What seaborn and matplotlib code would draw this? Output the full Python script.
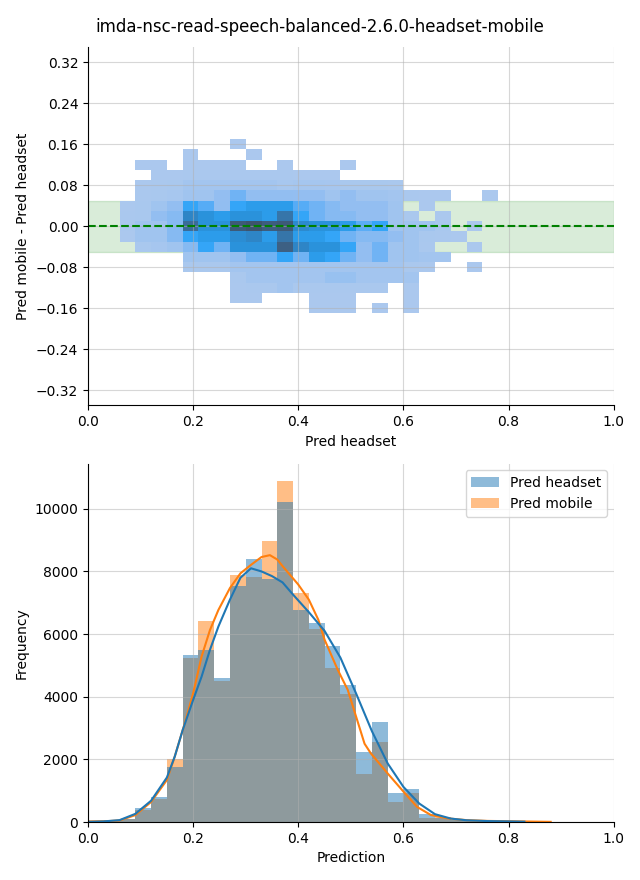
import numpy as np
import matplotlib
matplotlib.use("Agg")
import matplotlib.pyplot as plt
import seaborn as sns

TITLE = "imda-nsc-read-speech-balanced-2.6.0-headset-mobile"
SERIES = ["Pred headset", "Pred mobile"]

# ---- bottom panel: histogram of predictions (bin width 0.03, 0.00 .. 0.90)
HIST_EDGES = [round(0.03 * k, 4) for k in range(31)]
HEADSET_COUNTS = [40, 60, 110, 440, 790, 1760, 5340, 5500, 4600, 7550,
                  8410, 7770, 10230, 6770, 6360, 5620, 4370, 2220, 3190, 930,
                  1045, 250, 130, 70, 45, 30, 25, 12, 0, 0]
MOBILE_COUNTS = [50, 70, 100, 380, 730, 2000, 5250, 6420, 4510, 7890,
                 7830, 8980, 10900, 7320, 6170, 4920, 4100, 1530, 2550, 630,
                 920, 135, 170, 80, 45, 30, 25, 20, 15, 0]

# density curves (count scale)
KDE_HEADSET_X = [0.0, 0.03, 0.06, 0.09, 0.12, 0.15, 0.165, 0.18, 0.20, 0.216,
                 0.232, 0.248, 0.27, 0.29, 0.31, 0.33, 0.35, 0.37, 0.39, 0.42,
                 0.45, 0.48, 0.51, 0.54, 0.57, 0.60, 0.63, 0.66, 0.69, 0.72,
                 0.76, 0.80, 0.83]
KDE_HEADSET_Y = [5, 20, 60, 260, 680, 1420, 2090, 2930, 3900, 4640,
                 5500, 6240, 7100, 7800, 8100, 8000, 7850, 7650, 7260, 6700,
                 6100, 5250, 4100, 2900, 1870, 1120, 590, 250, 110, 55,
                 30, 20, 10]
KDE_MOBILE_X = [0.0, 0.03, 0.06, 0.09, 0.12, 0.15, 0.165, 0.184, 0.20, 0.216,
                0.232, 0.248, 0.27, 0.29, 0.31, 0.33, 0.346, 0.36, 0.37, 0.40,
                0.42, 0.438, 0.45, 0.475, 0.494, 0.51, 0.526, 0.538, 0.57, 0.60,
                0.626, 0.652, 0.683, 0.72, 0.76, 0.80, 0.84, 0.88]
KDE_MOBILE_Y = [5, 20, 50, 220, 640, 1340, 2090, 3150, 4110, 5280,
                6130, 6770, 7470, 7940, 8210, 8460, 8520, 8380, 8170, 7580,
                7100, 6460, 5820, 4860, 4220, 3360, 2500, 2190, 1550, 970,
                480, 225, 117, 60, 35, 25, 15, 5]

# ---- top panel: 2D histogram of headset prediction vs difference
DIFF_X_EDGES = [round(0.06 + 0.03 * k, 4) for k in range(25)]
DIFF_Y_EDGES = [round(-0.17 + 0.02 * k, 4) for k in range(18)]
# rows from top (y = 0.16) to bottom (y = -0.16), columns x = 0.075 .. 0.765
DIFF_COUNTS = [
    [0, 0, 0, 0, 0, 0, 0, 20, 0, 0, 0, 0, 0, 0, 0, 0, 0, 0, 0, 0, 0, 0, 0, 0],
    [0, 0, 0, 0, 20, 0, 0, 0, 20, 0, 0, 0, 0, 0, 0, 0, 0, 0, 0, 0, 0, 0, 0, 0],
    [0, 20, 20, 0, 20, 20, 20, 20, 0, 0, 20, 0, 0, 0, 20, 0, 0, 0, 0, 0, 0, 0, 0, 0],
    [0, 0, 30, 30, 40, 40, 40, 40, 40, 40, 40, 30, 30, 30, 0, 0, 0, 0, 0, 0, 0, 0, 0, 0],
    [0, 30, 40, 60, 150, 150, 150, 150, 150, 150, 80, 120, 120, 100, 60, 60, 50, 40, 0, 0, 0, 0, 0, 0],
    [0, 40, 60, 80, 200, 200, 380, 800, 400, 400, 400, 380, 380, 200, 380, 200, 200, 150, 40, 30, 30, 0, 0, 20],
    [30, 60, 200, 380, 1300, 1050, 400, 1300, 1600, 1600, 1600, 1050, 800, 560, 380, 380, 380, 200, 0, 30, 0, 0, 0, 0],
    [40, 60, 380, 560, 2350, 1950, 1600, 1950, 1950, 1600, 2900, 1300, 800, 560, 560, 380, 380, 200, 40, 0, 30, 0, 0, 0],
    [40, 200, 200, 560, 3200, 1950, 1950, 3800, 4000, 3700, 3800, 2200, 1950, 1950, 1600, 1000, 1300, 200, 200, 200, 50, 0, 20, 0],
    [30, 200, 200, 560, 1300, 1600, 1600, 2100, 2350, 1600, 2900, 1600, 1600, 1300, 800, 560, 560, 380, 200, 50, 40, 30, 0, 0],
    [0, 60, 100, 200, 560, 1300, 800, 1950, 1950, 1950, 3600, 2350, 1950, 1950, 1300, 380, 800, 200, 200, 40, 0, 0, 20, 0],
    [0, 0, 0, 0, 200, 200, 200, 380, 800, 800, 1300, 800, 1600, 1300, 800, 380, 800, 200, 200, 150, 150, 0, 0, 0],
    [0, 0, 0, 0, 40, 40, 40, 150, 150, 150, 150, 150, 150, 150, 150, 150, 150, 150, 40, 30, 0, 0, 20, 0],
    [0, 0, 0, 0, 0, 0, 0, 40, 150, 150, 150, 150, 150, 300, 300, 150, 150, 150, 150, 0, 0, 0, 0, 0],
    [0, 0, 0, 0, 0, 0, 0, 30, 40, 40, 150, 40, 40, 40, 40, 40, 40, 0, 30, 0, 0, 0, 0, 0],
    [0, 0, 0, 0, 0, 0, 0, 20, 20, 0, 0, 0, 20, 20, 20, 0, 0, 0, 20, 0, 0, 0, 0, 0],
    [0, 0, 0, 0, 0, 0, 0, 0, 0, 0, 0, 0, 20, 20, 20, 0, 20, 0, 20, 0, 0, 0, 0, 0],
]

fig, (ax1, ax2) = plt.subplots(2, 1, figsize=(6.4, 8.8), dpi=100)
fig.subplots_adjust(left=0.1375, right=0.959, top=0.9466, bottom=0.0659, hspace=0.162)

# ---------- top panel
xe = np.array(DIFF_X_EDGES)
ye = np.array(DIFF_Y_EDGES)
xc = (xe[:-1] + xe[1:]) / 2
yc = ((ye[:-1] + ye[1:]) / 2)[::-1]
xs, ys, ws = [], [], []
for i, row in enumerate(DIFF_COUNTS):
    for j, c in enumerate(row):
        if c > 0:
            xs.append(xc[j]); ys.append(yc[i]); ws.append(c)

ax1.axhspan(-0.05, 0.05, color="green", alpha=0.15)
sns.histplot(x=xs, y=ys, weights=ws, bins=[DIFF_X_EDGES, DIFF_Y_EDGES], ax=ax1)
ax1.axhline(0, color="green", linestyle="--", linewidth=1.5)
ax1.set_xlim(0, 1)
ax1.set_ylim(-0.35, 0.35)
ax1.set_yticks(np.round(np.arange(-0.32, 0.33, 0.08), 2))
ax1.set_xlabel("Pred headset")
ax1.set_ylabel("Pred mobile - Pred headset")
ax1.grid(True, alpha=0.5)

# ---------- bottom panel
he = np.array(HIST_EDGES)
hc = (he[:-1] + he[1:]) / 2
vals, wts, hue = [], [], []
for name, counts in zip(SERIES, [HEADSET_COUNTS, MOBILE_COUNTS]):
    for x, c in zip(hc, counts):
        if c > 0:
            vals.append(x); wts.append(c); hue.append(name)

palette = sns.color_palette()
sns.histplot(x=vals, weights=wts, hue=hue, hue_order=SERIES, bins=HIST_EDGES,
             linewidth=0, ax=ax2)
sns.lineplot(x=KDE_MOBILE_X, y=KDE_MOBILE_Y, color=palette[1], linewidth=1.5,
             legend=False, ax=ax2)
sns.lineplot(x=KDE_HEADSET_X, y=KDE_HEADSET_Y, color=palette[0], linewidth=1.5,
             legend=False, ax=ax2)
sns.move_legend(ax2, "upper right", title=None)
ax2.set_xlim(0, 1)
ax2.set_ylim(0, 11445)
ax2.set_xlabel("Prediction")
ax2.set_ylabel("Frequency")
ax2.grid(True, alpha=0.5)

sns.despine(fig)
fig.suptitle(TITLE, fontsize=12)
fig.savefig("out.png", dpi=100)
